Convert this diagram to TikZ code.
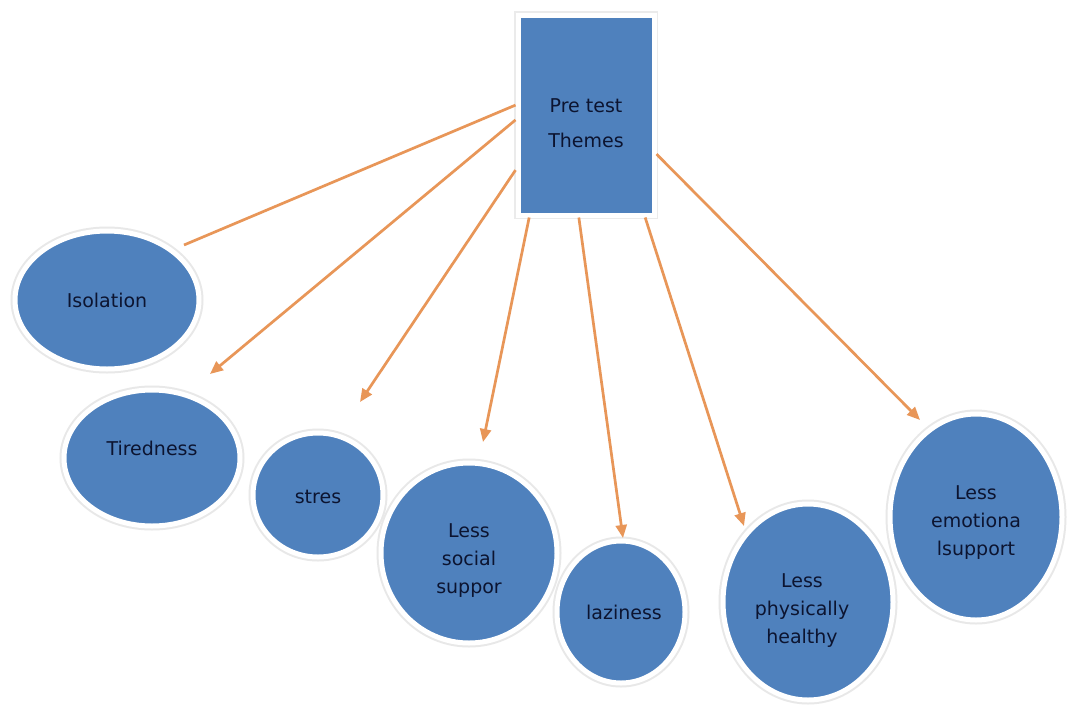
\documentclass[tikz,border=0pt]{standalone}
\usepackage{fontspec}
\setmainfont{DejaVu Sans}
\usetikzlibrary{shapes.geometric,arrows.meta}
\definecolor{themeblue}{RGB}{79,129,189}
\definecolor{linkorange}{RGB}{232,150,88}
\definecolor{inktext}{RGB}{12,20,48}
\tikzset{
  x=1pt, y=-1pt,
  bubble/.style={ellipse, fill=themeblue, draw=white, line width=5pt,
    preaction={draw=black!9, line width=9pt},
    inner sep=0pt},
  bubbletext/.style={text=inktext, align=center, inner sep=0pt,
    font=\fontsize{19}{28}\selectfont},
  themebox/.style={rectangle, fill=themeblue, draw=white, line width=5pt,
    preaction={draw=black!8, line width=8pt},
    minimum width=136pt, minimum height=200pt, inner sep=0pt,
    text=inktext, align=center, font=\fontsize{19}{35}\selectfont},
  link/.style={draw=linkorange, line width=2.7pt},
  arrowlink/.style={link, -{Triangle[length=13pt,width=11pt]}}
}
\begin{document}
\begin{tikzpicture}
\useasboundingbox[fill=white] (0,0) rectangle (1068,718);

% central box
\node[themebox, label={[bubbletext, font=\fontsize{19}{35}\selectfont, yshift=-8pt]center:Pre test\\Themes}] (themes) at (586,115) {};

% theme bubbles
\node[bubble, minimum width=184pt, minimum height=138pt,
  label={[bubbletext]center:Isolation}] (iso) at (107,300) {};
\node[bubble, minimum width=176pt, minimum height=136pt,
  label={[bubbletext, yshift=10pt]center:Tiredness}] (tired) at (152,458) {};
\node[bubble, minimum width=130pt, minimum height=124pt,
  label={[bubbletext, yshift=-2pt]center:stres}] (stres) at (318,495) {};
\node[bubble, minimum width=176pt, minimum height=180pt,
  label={[bubbletext, yshift=-8pt]center:Less\\social\\suppor}] (social) at (469,553) {};
\node[bubble, minimum width=128pt, minimum height=142pt,
  label={[bubbletext, xshift=3pt]center:laziness}] (lazy) at (621,612) {};
\node[bubble, minimum width=170pt, minimum height=196pt,
  label={[bubbletext, xshift=-6pt, yshift=-9pt]center:Less\\physically\\healthy}] (physical) at (808,602) {};
\node[bubble, minimum width=172pt, minimum height=206pt,
  label={[bubbletext, yshift=-6pt]center:Less\\emotiona\\lsupport}] (emotion) at (976,517) {};

% free ends of the connectors, just short of each bubble
\coordinate (isoEnd) at (184,245);
\coordinate (tiredEnd) at (210,374);
\coordinate (stresEnd) at (360,402);
\coordinate (socialEnd) at (483,442);
\coordinate (lazyEnd) at (623,538);
\coordinate (physicalEnd) at (744,526);
\coordinate (emotionEnd) at (920,420);

% connectors
\draw[link] (themes.172) -- (isoEnd);
\draw[arrowlink] (themes.184) -- (tiredEnd);
\draw[arrowlink] (themes.218) -- (stresEnd);
\draw[arrowlink] (themes.241) -- (socialEnd);
\draw[arrowlink] (themes.266) -- (lazyEnd);
\draw[arrowlink] (themes.300) -- (physicalEnd);
\draw[arrowlink] (themes.331) -- (emotionEnd);
\end{tikzpicture}
\end{document}
